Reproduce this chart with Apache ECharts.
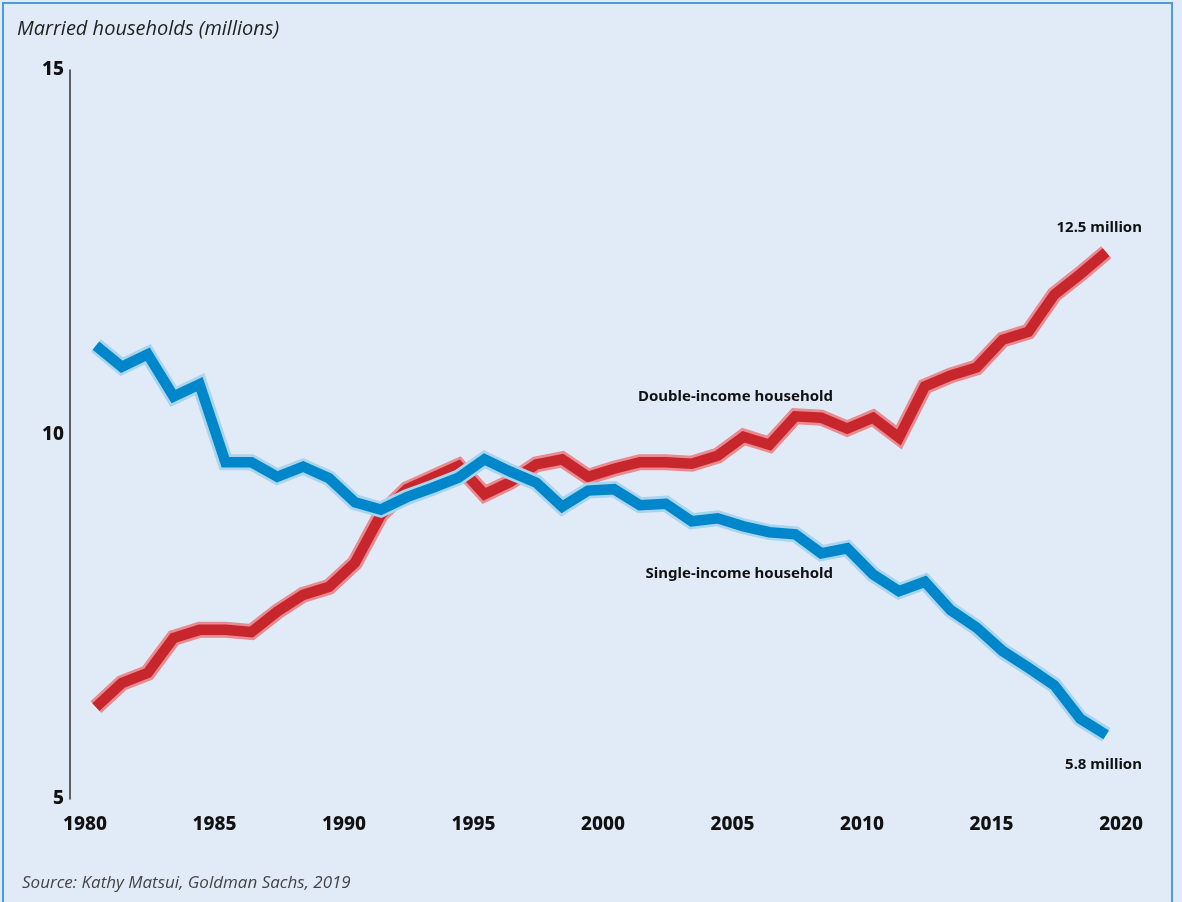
<!DOCTYPE html>
<html>
  <head>
    <meta charset="utf-8" />
    <title>Married households</title>
    <style>
      html, body { margin: 0; padding: 0; background: #e1ebf7; }
      #main { width: 1182px; height: 902px; }
    </style>
  </head>
  <body>
    <script src="https://cdn.jsdelivr.net/npm/echarts/dist/echarts.min.js"></script>
    <div id="main"></div>
    <script>
      var years = [
        1980, 1981, 1982, 1983, 1984, 1985, 1986, 1987, 1988, 1989,
        1990, 1991, 1992, 1993, 1994, 1995, 1996, 1997, 1998, 1999,
        2000, 2001, 2002, 2003, 2004, 2005, 2006, 2007, 2008, 2009,
        2010, 2011, 2012, 2013, 2014, 2015, 2016, 2017, 2018, 2019
      ];
      var singleIncome = [
        11.22, 10.93, 11.10, 10.52, 10.69, 9.62, 9.62, 9.42, 9.56, 9.40,
        9.07, 8.97, 9.14, 9.27, 9.41, 9.66, 9.49, 9.34, 9.01, 9.23,
        9.25, 9.03, 9.05, 8.81, 8.85, 8.74, 8.66, 8.63, 8.37, 8.44,
        8.08, 7.85, 7.98, 7.59, 7.35, 7.03, 6.80, 6.56, 6.10, 5.88
      ];
      var doubleIncome = [
        6.26, 6.59, 6.73, 7.21, 7.32, 7.32, 7.29, 7.57, 7.80, 7.91,
        8.24, 8.90, 9.25, 9.41, 9.57, 9.18, 9.35, 9.59, 9.66, 9.42,
        9.53, 9.62, 9.62, 9.60, 9.71, 9.97, 9.86, 10.25, 10.23, 10.08,
        10.23, 9.96, 10.66, 10.81, 10.92, 11.30, 11.41, 11.92, 12.20, 12.50
      ];
      var xTicks = [1980, 1985, 1990, 1995, 2000, 2005, 2010, 2015, 2020];

      function pairs(vals) {
        return years.map(function (y, i) { return [y, vals[i]]; });
      }

      function band(name, data, color, width) {
        return {
          name: name,
          type: "line",
          data: data,
          symbol: "none",
          silent: true,
          animation: false,
          lineStyle: { color: color, width: width, cap: "butt", join: "miter" }
        };
      }

      var chart = echarts.init(document.getElementById("main"));
      var labelFont = '"Noto Sans", sans-serif';
      var noteFont = 'bold 15px "Noto Sans", sans-serif';

      var option = {
        backgroundColor: "#e1ebf7",
        animation: false,
        grid: { left: 70, right: 24, top: 70, bottom: 103 },
        xAxis: {
          type: "value",
          min: 1979,
          max: 2021,
          axisLine: { show: false },
          axisTick: { show: false },
          splitLine: { show: false },
          axisLabel: {
            customValues: xTicks,
            formatter: function (v) { return String(v); },
            margin: 16,
            color: "#111",
            fontFamily: labelFont,
            fontWeight: 800,
            fontSize: 19,
            padding: [0, 22, 0, 0]
          }
        },
        yAxis: {
          type: "value",
          min: 5,
          max: 15,
          interval: 5,
          axisLine: { show: true, lineStyle: { color: "#333", width: 1.5 } },
          axisTick: { show: false },
          splitLine: { show: false },
          axisLabel: {
            margin: 6,
            color: "#111",
            fontFamily: labelFont,
            fontWeight: 800,
            fontSize: 19
          }
        },
        series: [
          band("double-outline", pairs(doubleIncome), "#e98b90", 16),
          band("Double-income household", pairs(doubleIncome), "#c8262d", 10.5),
          band("single-outline", pairs(singleIncome), "#a9d5ef", 16),
          band("Single-income household", pairs(singleIncome), "#0086ca", 10.5)
        ],
        graphic: [
          {
            type: "rect",
            shape: { x: 3, y: 3, width: 1169, height: 920 },
            style: { fill: "none", stroke: "#4a9dd6", lineWidth: 2 },
            silent: true
          },
          {
            type: "text", left: 17, top: 19,
            style: {
              text: "Married households (millions)",
              font: 'italic 20px "Open Sans", sans-serif',
              fill: "#222"
            }
          },
          {
            type: "text", left: 22, top: 875,
            style: {
              text: "Source: Kathy Matsui, Goldman Sachs, 2019",
              font: 'italic 17px "Open Sans", sans-serif',
              fill: "#444"
            }
          },
          {
            type: "text", x: 1142, y: 228,
            style: {
              text: "12.5 million", align: "right", verticalAlign: "middle",
              font: noteFont, fill: "#111"
            }
          },
          {
            type: "text", x: 1142, y: 765,
            style: {
              text: "5.8 million", align: "right", verticalAlign: "middle",
              font: noteFont, fill: "#111"
            }
          },
          {
            type: "text", x: 833, y: 397,
            style: {
              text: "Double-income household", align: "right", verticalAlign: "middle",
              font: noteFont, fill: "#111"
            }
          },
          {
            type: "text", x: 833, y: 574,
            style: {
              text: "Single-income household", align: "right", verticalAlign: "middle",
              font: noteFont, fill: "#111"
            }
          }
        ]
      };

      chart.setOption(option);
    </script>
  </body>
</html>
